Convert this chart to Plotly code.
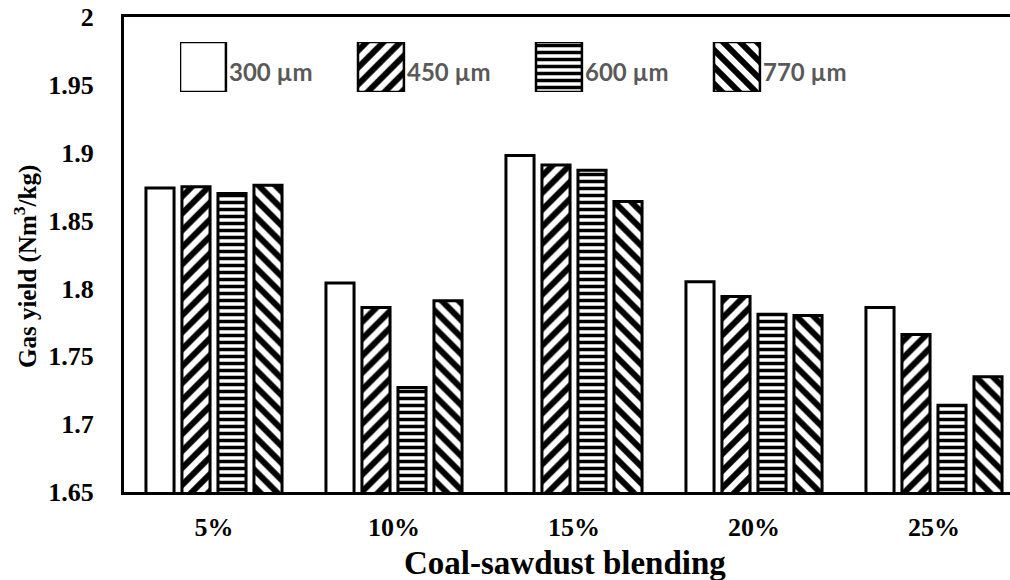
import plotly.graph_objects as go

# Coal-sawdust blending ratios and gas yield (Nm3/kg) for each particle size
blends = ["5%", "10%", "15%", "20%", "25%"]
sizes = ["300 µm", "450 µm", "600 µm", "770 µm"]
yield_300 = [1.874, 1.804, 1.898, 1.805, 1.786]
yield_450 = [1.875, 1.786, 1.891, 1.794, 1.766]
yield_600 = [1.870, 1.727, 1.887, 1.781, 1.714]
yield_770 = [1.876, 1.791, 1.864, 1.780, 1.735]

y_ticks = [1.65, 1.7, 1.75, 1.8, 1.85, 1.9, 1.95, 2.0]
y_tick_text = ["1.65", "1.7", "1.75", "1.8", "1.85", "1.9", "1.95", "2"]

series = [yield_300, yield_450, yield_600, yield_770]
shapes = ["", "/", "-", "\\"]
pat_sizes = [12, 12, 7, 12]

W, H = 1010, 580
L, R, T, B = 124, 0, 17, 88
plot_w = W - L - R
plot_h = H - T - B


def pattern(shape, size):
    if not shape:
        return dict(shape="")
    return dict(shape=shape, size=size, solidity=0.5, fgcolor="black",
                bgcolor="white", fgopacity=1, fillmode="replace")


def px_x(p):
    return (p - L) / plot_w


def px_y(p):
    return (H - B - p) / plot_h


fig = go.Figure()
for name, vals, shp, sz in zip(sizes, series, shapes, pat_sizes):
    fig.add_trace(go.Bar(
        x=blends, y=vals, name=name,
        marker=dict(color="white", line=dict(color="black", width=3),
                    pattern=pattern(shp, sz)),
        showlegend=False,
    ))

# Legend keys: large patterned boxes on a small overlay axis
key_w = 0.258
for i, (shp, sz) in enumerate(zip(shapes, pat_sizes)):
    fig.add_trace(go.Bar(
        x=[i], y=[1], width=[key_w], offset=0,
        xaxis="x2", yaxis="y2", showlegend=False, hoverinfo="skip",
        marker=dict(color="white", line=dict(color="black", width=2.5),
                    pattern=pattern(shp, sz)),
    ))
for i, name in enumerate(sizes):
    fig.add_annotation(
        x=i + key_w + 0.004, y=0.42, xref="x2", yref="y2",
        text=name, showarrow=False, xanchor="left", yanchor="middle",
        font=dict(family="Lato", size=24, color="#595959", weight="bold"),
    )

tick_font = dict(family="Liberation Serif", size=26, color="black", weight="bold")
ytitle_font = dict(family="Liberation Serif", size=25, color="black", weight="bold")
xtitle_font = dict(family="Liberation Serif", size=33, color="black", weight="bold")

# Axis titles
fig.add_annotation(
    x=px_x(565), y=px_y(563), xref="paper", yref="paper",
    text="Coal-sawdust blending", showarrow=False,
    xanchor="center", yanchor="middle", font=xtitle_font,
)
fig.add_annotation(
    x=px_x(25), y=px_y(267), xref="paper", yref="paper",
    text="Gas yield (Nm<sup>3</sup>/kg)", showarrow=False, textangle=-90,
    xanchor="center", yanchor="middle", font=ytitle_font,
)

fig.update_layout(
    width=W, height=H,
    margin=dict(l=L, r=R, t=T, b=B),
    paper_bgcolor="white", plot_bgcolor="white",
    barmode="group", bargap=0.2, bargroupgap=0.22,
    xaxis=dict(
        type="category", range=[-0.5, -0.5 + plot_w / 180],
        showline=True, linewidth=3, linecolor="black", mirror=True,
        showgrid=False, ticks="", tickfont=tick_font, ticklabelstandoff=10,
    ),
    yaxis=dict(
        range=[1.65, 2.0], tickvals=y_ticks, ticktext=y_tick_text,
        showline=True, linewidth=3, linecolor="black",
        showgrid=False, ticks="", tickfont=tick_font, ticklabelstandoff=22,
    ),
    xaxis2=dict(domain=[px_x(180), px_x(180 + 4 * 178)], range=[0, 4],
                anchor="y2", visible=False, fixedrange=True),
    yaxis2=dict(domain=[px_y(92), px_y(42)], range=[0, 1],
                anchor="x2", visible=False, fixedrange=True),
)

fig.write_html("out.html")
